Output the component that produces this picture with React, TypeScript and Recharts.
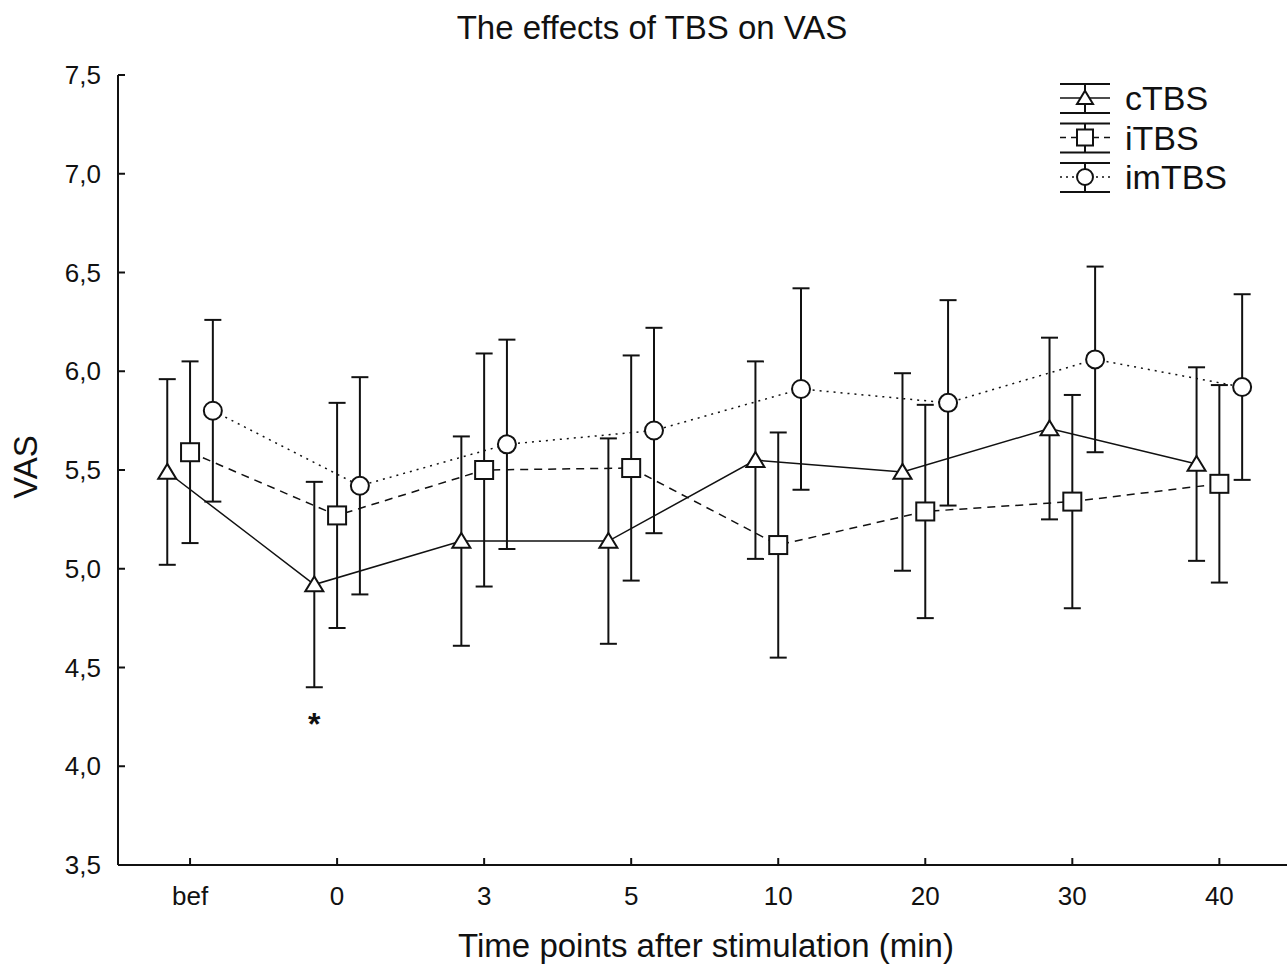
import { Customized, ErrorBar, Line, LineChart, ReferenceDot, XAxis, YAxis } from "recharts";

const categories = ["bef", "0", "3", "5", "10", "20", "30", "40"];
const yTicks = [3.5, 4.0, 4.5, 5.0, 5.5, 6.0, 6.5, 7.0, 7.5];

const cTBSMeans = [5.49, 4.92, 5.14, 5.14, 5.55, 5.49, 5.71, 5.53];
const cTBSErr = [0.47, 0.52, 0.53, 0.52, 0.5, 0.5, 0.46, 0.49];
const iTBSMeans = [5.59, 5.27, 5.5, 5.51, 5.12, 5.29, 5.34, 5.43];
const iTBSErr = [0.46, 0.57, 0.59, 0.57, 0.57, 0.54, 0.54, 0.5];
const imTBSMeans = [5.8, 5.42, 5.63, 5.7, 5.91, 5.84, 6.06, 5.92];
const imTBSErr = [0.46, 0.55, 0.53, 0.52, 0.51, 0.52, 0.47, 0.47];

// significant point: cTBS at "0"
const sigMark = { index: 1, y: 4.23 };

const FONT = '"Liberation Sans", Arial, sans-serif';
const INK = "#111";
const SHIFT = 0.155;

const build = (means: number[], errs: number[], off: number) =>
  means.map((v, i) => ({ x: i + off, value: v, err: errs[i] }));

const cData = build(cTBSMeans, cTBSErr, -SHIFT);
const iData = build(iTBSMeans, iTBSErr, 0);
const imData = build(imTBSMeans, imTBSErr, SHIFT);

type Shape = "triangle" | "square" | "circle";

function Marker({ cx, cy, shape, s }: { cx: number; cy: number; shape: Shape; s: number }) {
  const h = s / 2;
  if (shape === "triangle") {
    return (
      <polygon
        points={`${cx},${cy - h * 0.9} ${cx + h},${cy + h * 0.75} ${cx - h},${cy + h * 0.75}`}
        fill="#fff"
        stroke={INK}
        strokeWidth={2}
      />
    );
  }
  if (shape === "square") {
    return <rect x={cx - h} y={cy - h} width={s} height={s} fill="#fff" stroke={INK} strokeWidth={2} />;
  }
  return <circle cx={cx} cy={cy} r={h} fill="#fff" stroke={INK} strokeWidth={2} />;
}

const dotFor = (shape: Shape) => (p: any) => (
  <Marker key={`${shape}-${p.index}`} cx={p.cx} cy={p.cy} shape={shape} s={18} />
);

const YTick = (p: any) => (
  <g>
    <line x1={p.x} x2={p.x + 7} y1={p.y} y2={p.y} stroke={INK} strokeWidth={2} />
    <text x={p.x - 17} y={p.y + 9} textAnchor="end" fontSize={26} fontFamily={FONT} fill={INK}>
      {Number(p.payload.value).toFixed(1).replace(".", ",")}
    </text>
  </g>
);

const XTick = (p: any) => (
  <g>
    <line x1={p.x} x2={p.x} y1={p.y} y2={p.y - 7} stroke={INK} strokeWidth={2} />
    <text x={p.x} y={p.y + 40} textAnchor="middle" fontSize={26} fontFamily={FONT} fill={INK}>
      {categories[Math.round(p.payload.value)]}
    </text>
  </g>
);

const legendItems: { name: string; shape: Shape; dash?: string }[] = [
  { name: "cTBS", shape: "triangle" },
  { name: "iTBS", shape: "square", dash: "6 5" },
  { name: "imTBS", shape: "circle", dash: "2 4" },
];

function Decor() {
  return (
    <g fontFamily={FONT} fill={INK}>
      <text x={652} y={39} textAnchor="middle" fontSize={33}>
        The effects of TBS on VAS
      </text>
      <text x={706} y={957} textAnchor="middle" fontSize={33}>
        Time points after stimulation (min)
      </text>
      <text x={25} y={479} textAnchor="middle" fontSize={33} transform="rotate(-90 25 467)">
        VAS
      </text>
      {legendItems.map((it, i) => {
        const c = 98 + i * 39.5;
        return (
          <g key={it.name}>
            <line x1={1060} x2={1110} y1={c - 14} y2={c - 14} stroke={INK} strokeWidth={2} />
            <line x1={1060} x2={1110} y1={c + 15} y2={c + 15} stroke={INK} strokeWidth={2} />
            <line x1={1085} x2={1085} y1={c - 14} y2={c + 15} stroke={INK} strokeWidth={2} />
            <line x1={1060} x2={1110} y1={c} y2={c} stroke={INK} strokeWidth={1.5} strokeDasharray={it.dash} />
            <Marker cx={1085} cy={c} shape={it.shape} s={16} />
            <text x={1125} y={c + 12} fontSize={34}>
              {it.name}
            </text>
          </g>
        );
      })}
    </g>
  );
}

export default function App() {
  return (
    <div style={{ position: "absolute", left: 0, top: 0, background: "#fff" }}>
      <LineChart width={1287} height={966} margin={{ top: 75, right: 0, bottom: 41, left: 58 }}>
        <XAxis
          type="number"
          dataKey="x"
          domain={[-0.49, 7.46]}
          ticks={[0, 1, 2, 3, 4, 5, 6, 7]}
          interval={0}
          allowDataOverflow
          height={60}
          tickSize={0}
          tickMargin={0}
          tick={<XTick />}
          axisLine={{ stroke: INK, strokeWidth: 2 }}
        />
        <YAxis
          type="number"
          domain={[3.5, 7.5]}
          ticks={yTicks}
          interval={0}
          width={60}
          tickSize={0}
          tickMargin={0}
          tick={<YTick />}
          axisLine={{ stroke: INK, strokeWidth: 2 }}
        />
        <Line
          data={cData}
          dataKey="value"
          stroke={INK}
          strokeWidth={1.5}
          dot={dotFor("triangle")}
          activeDot={false}
          isAnimationActive={false}
        >
          <ErrorBar dataKey="err" direction="y" width={8.5} stroke={INK} strokeWidth={2} isAnimationActive={false} />
        </Line>
        <Line
          data={iData}
          dataKey="value"
          stroke={INK}
          strokeWidth={1.5}
          strokeDasharray="8 6"
          dot={dotFor("square")}
          activeDot={false}
          isAnimationActive={false}
        >
          <ErrorBar dataKey="err" direction="y" width={8.5} stroke={INK} strokeWidth={2} isAnimationActive={false} />
        </Line>
        <Line
          data={imData}
          dataKey="value"
          stroke={INK}
          strokeWidth={1.5}
          strokeDasharray="2 5"
          dot={dotFor("circle")}
          activeDot={false}
          isAnimationActive={false}
        >
          <ErrorBar dataKey="err" direction="y" width={8.5} stroke={INK} strokeWidth={2} isAnimationActive={false} />
        </Line>
        <ReferenceDot
          x={sigMark.index - SHIFT}
          y={sigMark.y}
          r={0}
          shape={(p: any) => (
            <text x={p.cx} y={p.cy + 14} textAnchor="middle" fontSize={32} fontWeight="bold" fontFamily={FONT} fill={INK}>
              *
            </text>
          )}
        />
        <Customized component={Decor} />
      </LineChart>
    </div>
  );
}
